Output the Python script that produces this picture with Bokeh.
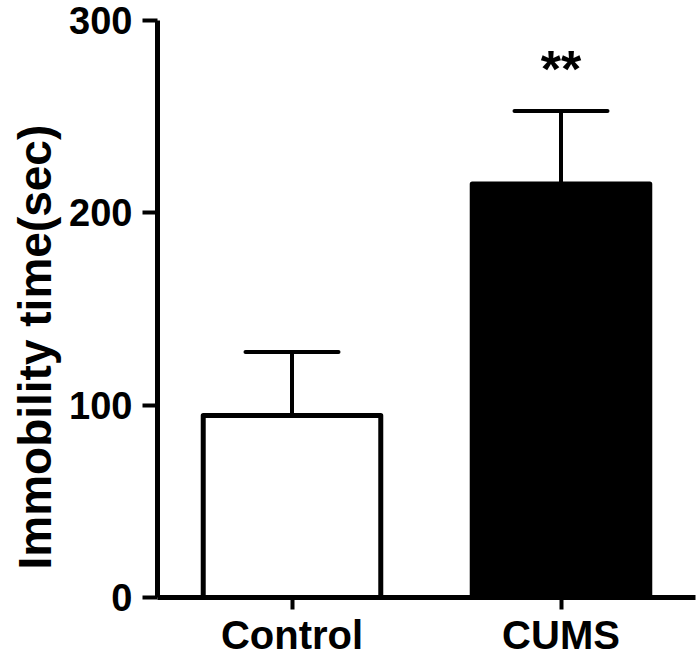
from bokeh.plotting import figure
from bokeh.models import FactorRange, Range1d, FixedTicker, Whisker, TeeHead, ColumnDataSource, Title
from bokeh.core.properties import value
from bokeh.embed import file_html
from bokeh.resources import INLINE

# Data
groups = ["Control", "CUMS"]
means = [94.6, 215.0]
sems = [33.0, 38.0]
fill_colors = ["white", "black"]
y_ticks = [0, 100, 200, 300]
y_label = "Immobility time(sec)"
sig_group = "CUMS"
sig_text = "**"

uppers = [m + s for m, s in zip(means, sems)]
src = ColumnDataSource(dict(group=groups, mean=means, upper=uppers, color=fill_colors))

FONT = "Liberation Sans"

p = figure(x_range=FactorRange(*groups), y_range=Range1d(0, 300),
           width=700, height=659, output_backend="svg", toolbar_location=None,
           min_border_left=155, min_border_right=5, min_border_top=20, min_border_bottom=50)
p.outline_line_color = None
p.xgrid.grid_line_color = None
p.ygrid.grid_line_color = None
p.background_fill_color = "white"

p.vbar(x="group", top="mean", width=0.66, source=src, fill_color="color",
       line_color="black", line_width=5, line_join="round")

w = Whisker(base="group", upper="upper", lower="mean", source=src, dimension="height",
            line_color="black", line_width=4, line_cap="round",
            upper_head=TeeHead(size=93, line_color="black", line_width=4, line_cap="round"),
            lower_head=None)
p.add_layout(w)

sig_y = uppers[groups.index(sig_group)] + 22
p.text(x=[sig_group], y=[sig_y], text=[sig_text], text_align="center", text_baseline="alphabetic",
       text_font_size="52px", text_font_style="bold", text_color="black",
       text_font=value(FONT))

for ax in (p.xaxis[0], p.yaxis[0]):
    ax.axis_line_width = 5
    ax.axis_line_color = "black"
    ax.major_tick_line_width = 4
    ax.major_tick_line_color = "black"
    ax.major_tick_in = 0
    ax.minor_tick_line_color = None
    ax.major_label_text_font = FONT
    ax.major_label_text_font_style = "bold"
    ax.major_label_text_color = "black"

p.xaxis.major_tick_out = 12
p.xaxis.major_label_standoff = 3
p.xaxis.major_label_text_font_size = "40px"
p.yaxis.major_tick_out = 15
p.yaxis.major_label_standoff = 10
p.yaxis.major_label_text_font_size = "38px"
p.yaxis.ticker = FixedTicker(ticks=y_ticks)

ytitle = Title(text=y_label, align="left", offset=28, standoff=12,
               text_font=FONT, text_font_style="bold", text_font_size="46px", text_color="black")
p.add_layout(ytitle, "left")

open("out.html", "w").write(file_html(p, INLINE))
